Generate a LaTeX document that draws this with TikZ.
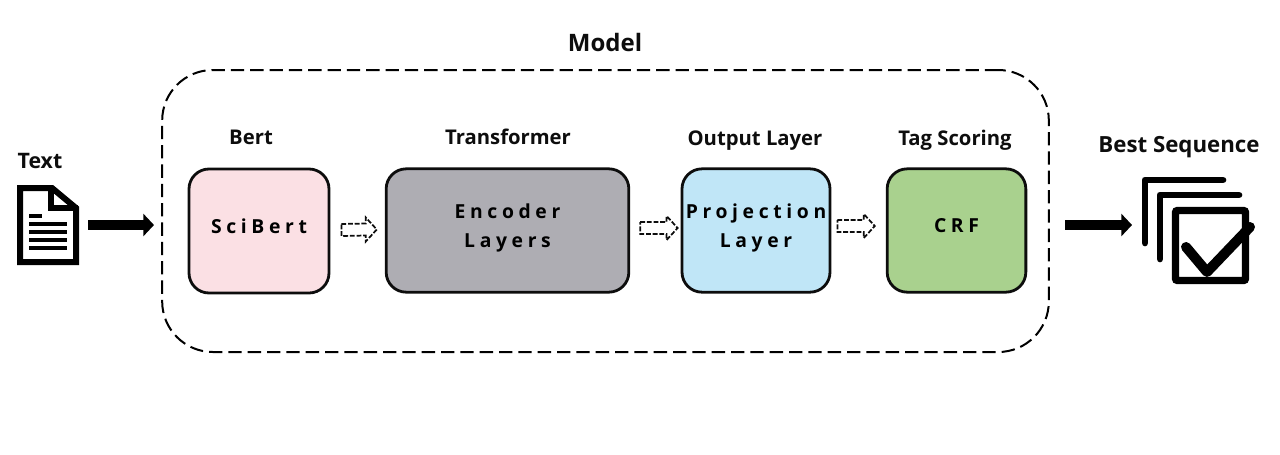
\documentclass[tikz,border=0pt]{standalone}
\usepackage{fontspec}
\setmainfont{Open Sans}
\usepackage{tikz}
\usetikzlibrary{calc,arrows.meta}
\definecolor{ink}{RGB}{13,13,13}
\definecolor{bertpink}{RGB}{251,224,228}
\definecolor{encgrey}{RGB}{174,173,179}
\definecolor{projblue}{RGB}{192,230,247}
\definecolor{crfgreen}{RGB}{169,209,142}

\tikzset{
  headlabel/.style={font=\bfseries\fontsize{15.2}{18}\selectfont, color=ink, inner sep=0pt},
  layerbox/.style={draw=ink, line width=2.1pt, rounded corners=15pt, inner sep=0pt, align=center, text depth=7pt,
    font=\bfseries\fontsize{14.5}{21.75}\selectfont\addfontfeature{LetterSpace=24}},
  bigarrow/.style={draw=black, line width=8pt, -{Triangle[length=8pt,width=16.5pt]}},
  flowarrow/.style n args={3}{draw=ink, line width=1.3pt, dash pattern=on 3.6pt off 1.4pt, to path={
    ($(\tikztostart.east)+(#1,#3-6)$) -- ($(\tikztotarget.west)+(-#2-11,#3-6)$) -- ($(\tikztotarget.west)+(-#2-11,#3-12)$)
    -- ($(\tikztotarget.west)+(-#2,#3)$) -- ($(\tikztotarget.west)+(-#2-11,#3+12)$) -- ($(\tikztotarget.west)+(-#2-11,#3+6)$)
    -- ($(\tikztostart.east)+(#1,#3+6)$) -- cycle}},
}

\begin{document}
\begin{tikzpicture}[x=0.75pt,y=-0.75pt]
\useasboundingbox (0,0) rectangle (1280,454);

% model frame
\node[draw=black, line width=1.5pt, dash pattern=on 10pt off 4.5pt, rounded corners=38pt, minimum width=665pt, minimum height=211.5pt, inner sep=0pt] (modelbox) at (605.5,211) {};
\node[headlabel,font=\bfseries\fontsize{18}{20}\selectfont] (modellabel) at (605,42) {Model};

% layers
\node[layerbox, fill=bertpink, minimum width=105pt, minimum height=93pt] (scibert) at (259,231) {SciBert};
\node[layerbox, fill=encgrey, minimum width=182pt, minimum height=92.5pt] (encoder) at (507.5,230.5) {Encoder\\Layers};
\node[layerbox, fill=projblue, minimum width=111pt, minimum height=92.5pt] (projection) at (756,230.5) {Projection\\Layer};
\node[layerbox, fill=crfgreen, minimum width=104pt, minimum height=92.5pt] (crf) at (956.5,230.5) {CRF};

\node[headlabel] (bertlabel) at (251,137) {Bert};
\node[headlabel] (translabel) at (508,137) {Transformer};
\node[headlabel] (outlabel) at (755,141) {Output Layer};
\node[headlabel] (taglabel) at (955,140) {Tag Scoring};

\draw[flowarrow={11}{8}{-1}] (scibert) to (encoder);
\draw[flowarrow={10}{3}{-2.5}] (encoder) to (projection);
\draw[flowarrow={6}{11}{-4.5}] (projection) to (crf);

% text icon
\node[headlabel,font=\bfseries\fontsize{16}{18}\selectfont] (textlabel) at (40,161) {Text};
\draw[line width=4.5pt, miter limit=4] (20,188) -- (52,188) -- (76,208) -- (76,262) -- (20,262) -- cycle;
\draw[line width=4.5pt] (51,186) -- (51,208) -- (78,208);
\foreach \y/\xend in {216/42,224/67,232/67,240/67,248/67}
  \draw[line width=2.6pt] (29,\y) -- (\xend,\y);
\coordinate (textout) at (88,225);
\coordinate (textin) at (154,225);
\draw[bigarrow] (textout) -- (textin);

% sequence icon
\node[headlabel,font=\bfseries\fontsize{16.7}{18}\selectfont] (bestlabel) at (1179,147) {Best Sequence};
\coordinate (bestout) at (1065,225);
\coordinate (bestin) at (1132,225);
\draw[bigarrow] (bestout) -- (bestin);
\draw[line width=5pt, line cap=round, line join=round] (1145,243) -- (1145,180) -- (1223,180);
\draw[line width=5pt, line cap=round, line join=round] (1160,259) -- (1160,195) -- (1239,195);
\draw[line width=5.5pt, rounded corners=1.5pt] (1175.5,210.5) rectangle (1245.5,280.5);
\draw[line width=7.5pt, line cap=round, line join=round] (1186,247) -- (1207,272) -- (1250,227);
\end{tikzpicture}
\end{document}
